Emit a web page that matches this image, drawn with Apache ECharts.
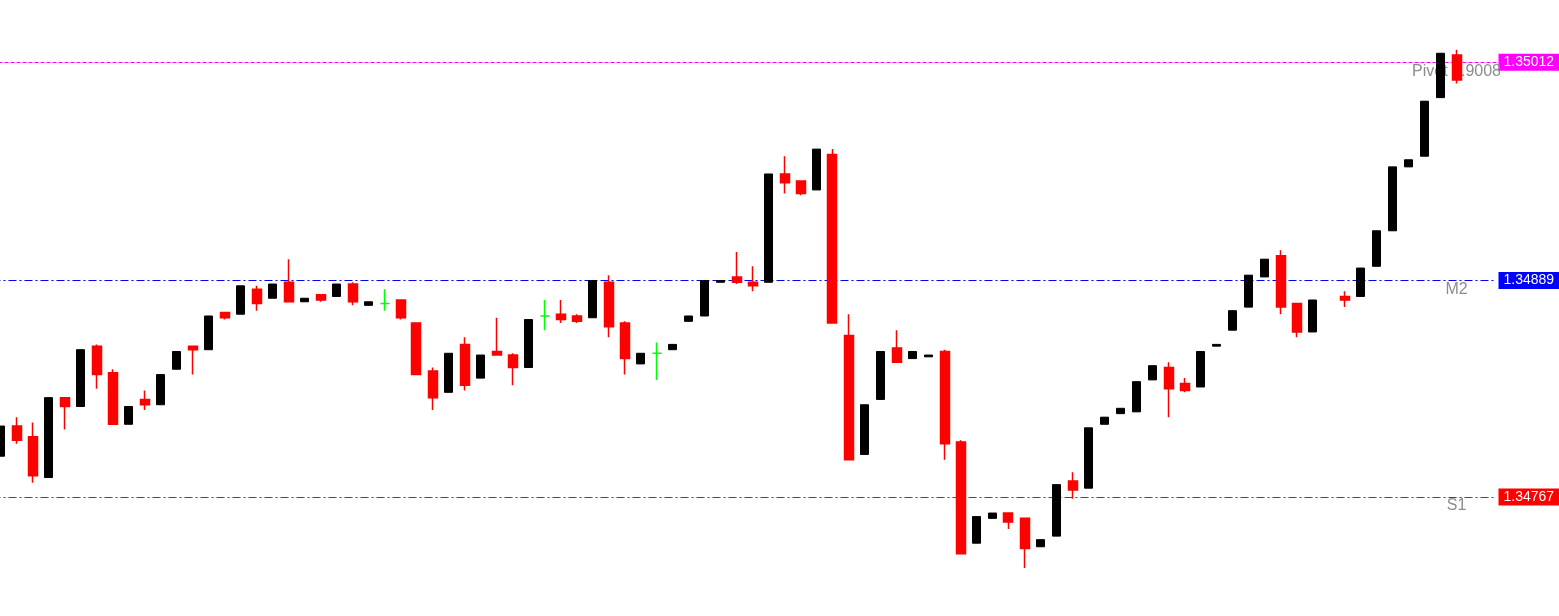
<!DOCTYPE html>
<html>
<head>
<meta charset="utf-8">
<script src="https://cdn.jsdelivr.net/npm/echarts@6/dist/echarts.min.js"></script>
<style>
  html, body { margin: 0; padding: 0; background: #fff; }
  #chart { width: 1559px; height: 616px; }
</style>
</head>
<body>
<div id="chart"></div>
<script>
// candles, left to right (null = no bar drawn)
const opens = [
  1.34790, 1.34807, 1.34801, 1.34778, 1.34823, 1.34818, 1.34852, 1.34837, 1.34808, 1.34822,
  1.34819, 1.34839, 1.34852, 1.34850, 1.34871, 1.34870, 1.34884, 1.34879, 1.34888, 1.34877,
  1.34881, 1.34880, 1.34887, 1.34875, 1.34876, 1.34878, 1.34865, 1.34838, 1.34826, 1.34853,
  1.34834, 1.34849, 1.34847, 1.34840, 1.34869, 1.34870, 1.34869, 1.34868, 1.34888, 1.34865,
  1.34842, 1.34848, 1.34850, 1.34866, 1.34869, 1.34888, 1.34891, 1.34888, 1.34888, 1.34949,
  1.34945, 1.34940, 1.34960, 1.34858, 1.34791, 1.34822, 1.34851, 1.34845, 1.34846, 1.34849,
  1.34798, 1.34741, 1.34755, 1.34758, 1.34755, 1.34739, 1.34745, 1.34776, 1.34772, 1.34808,
  1.34814, 1.34815, 1.34833, 1.34840, 1.34831, 1.34829, 1.34852, 1.34861, 1.34874, 1.34891,
  1.34903, 1.34876, 1.34860, null, 1.34880, 1.34880, 1.34897, 1.34917, 1.34953, 1.34959,
  1.34992, 1.35016
]
const closes = [
  1.34807, 1.34799, 1.34779, 1.34823, 1.34818, 1.34850, 1.34836, 1.34808, 1.34818, 1.34819,
  1.34836, 1.34849, 1.34850, 1.34869, 1.34868, 1.34886, 1.34876, 1.34887, 1.34877, 1.34879,
  1.34878, 1.34887, 1.34877, 1.34877, 1.34876, 1.34868, 1.34836, 1.34823, 1.34848, 1.34830,
  1.34847, 1.34847, 1.34840, 1.34867, 1.34869, 1.34867, 1.34866, 1.34889, 1.34863, 1.34845,
  1.34848, 1.34848, 1.34853, 1.34869, 1.34889, 1.34889, 1.34888, 1.34886, 1.34949, 1.34944,
  1.34938, 1.34963, 1.34865, 1.34788, 1.34819, 1.34849, 1.34843, 1.34849, 1.34847, 1.34797,
  1.34735, 1.34756, 1.34758, 1.34753, 1.34738, 1.34743, 1.34774, 1.34771, 1.34806, 1.34812,
  1.34817, 1.34832, 1.34841, 1.34828, 1.34827, 1.34849, 1.34853, 1.34872, 1.34892, 1.34901,
  1.34874, 1.34860, 1.34878, null, 1.34878, 1.34896, 1.34917, 1.34953, 1.34957, 1.34990,
  1.35017, 1.35002
]
const lows = [
  1.34790, 1.34797, 1.34775, 1.34778, 1.34805, 1.34818, 1.34828, 1.34808, 1.34808, 1.34816,
  1.34819, 1.34839, 1.34836, 1.34850, 1.34867, 1.34870, 1.34872, 1.34879, 1.34877, 1.34877,
  1.34877, 1.34880, 1.34875, 1.34875, 1.34872, 1.34867, 1.34836, 1.34816, 1.34826, 1.34827,
  1.34834, 1.34847, 1.34830, 1.34840, 1.34861, 1.34865, 1.34865, 1.34868, 1.34857, 1.34836,
  1.34842, 1.34833, 1.34850, 1.34866, 1.34869, 1.34888, 1.34887, 1.34883, 1.34888, 1.34938,
  1.34937, 1.34940, 1.34865, 1.34788, 1.34791, 1.34822, 1.34843, 1.34845, 1.34846, 1.34788,
  1.34735, 1.34741, 1.34755, 1.34749, 1.34727, 1.34739, 1.34745, 1.34766, 1.34772, 1.34808,
  1.34814, 1.34815, 1.34833, 1.34812, 1.34826, 1.34829, 1.34852, 1.34861, 1.34874, 1.34891,
  1.34870, 1.34857, 1.34860, null, 1.34874, 1.34880, 1.34897, 1.34917, 1.34953, 1.34959,
  1.34992, 1.35000
]
const highs = [
  1.34807, 1.34812, 1.34809, 1.34823, 1.34823, 1.34850, 1.34853, 1.34839, 1.34818, 1.34827,
  1.34836, 1.34849, 1.34852, 1.34869, 1.34871, 1.34886, 1.34886, 1.34887, 1.34901, 1.34879,
  1.34881, 1.34887, 1.34888, 1.34877, 1.34884, 1.34878, 1.34865, 1.34840, 1.34848, 1.34857,
  1.34847, 1.34868, 1.34848, 1.34867, 1.34878, 1.34878, 1.34870, 1.34889, 1.34892, 1.34866,
  1.34848, 1.34854, 1.34853, 1.34869, 1.34889, 1.34889, 1.34905, 1.34897, 1.34949, 1.34959,
  1.34945, 1.34963, 1.34963, 1.34870, 1.34819, 1.34849, 1.34861, 1.34849, 1.34847, 1.34850,
  1.34799, 1.34756, 1.34758, 1.34758, 1.34755, 1.34743, 1.34774, 1.34781, 1.34806, 1.34812,
  1.34817, 1.34832, 1.34841, 1.34843, 1.34834, 1.34849, 1.34853, 1.34872, 1.34892, 1.34901,
  1.34906, 1.34876, 1.34878, null, 1.34883, 1.34896, 1.34917, 1.34953, 1.34957, 1.34990,
  1.35017, 1.35019
]
// two empty slots after the last bar
const emptySlots = 2

const levelNames = ['Pivot 0.9008', 'M2', 'S1']
const levelValues = [1.35012, 1.34889, 1.34767]
const levelColors = ['#ff00ff', '#0000ff', '#ff0000']
const levelDash = [[4, 2], [8, 3, 2, 3], [8, 3, 2, 3]]

const cats = []
for (let i = 0; i < opens.length + emptySlots; i++) cats.push(String(i))

let up = []
let down = []
let flat = []
for (let i = 0; i < opens.length; i++) {
  if (opens[i] == null) {
    up.push('-'); down.push('-'); flat.push('-')
    continue
  }
  let c = [opens[i], closes[i], lows[i], highs[i]]
  if (closes[i] > opens[i]) { up.push(c); down.push('-'); flat.push('-') }
  else if (closes[i] < opens[i]) { up.push('-'); down.push(c); flat.push('-') }
  else { up.push('-'); down.push('-'); flat.push(c) }
}

const lastIdx = opens.length - 1
const font = 'Liberation Sans, Arial, sans-serif'

var myChart = echarts.init(document.getElementById('chart'))

myChart.setOption({
  animation: false,
  backgroundColor: '#fff',
  grid: { left: -7.5, right: 62.5, top: 0, bottom: 0, outerBoundsMode: 'none', containLabel: false },
  xAxis: {
    type: 'category',
    data: cats,
    boundaryGap: true,
    show: false
  },
  yAxis: {
    type: 'value',
    min: 1.347,
    max: 1.35047,
    scale: true,
    show: false
  },
  series: [
    {
      name: 'down',
      type: 'candlestick',
      data: down,
      z: 3,
      barWidth: 9.5,
      itemStyle: {
        color: '#ff0000', color0: '#ff0000',
        borderColor: '#ff0000', borderColor0: '#ff0000',
        borderWidth: 1.5
      },
      markLine: {
        silent: true,
        z: 1,
        precision: 5,
        symbol: ['none', 'none'],
        data: levelValues.map((v, i) => ({
          yAxis: v,
          lineStyle: { color: levelColors[i], type: levelDash[i], width: 1 },
          label: {
            show: true,
            position: 'end',
            distance: 2,
            formatter: v.toFixed(5),
            backgroundColor: levelColors[i],
            color: '#fff',
            fontFamily: font,
            fontSize: 14,
            padding: [2, 5, 1, 5]
          }
        }))
      },
      markPoint: {
        silent: true,
        z: 1,
        symbol: 'circle',
        symbolSize: 0,
        data: levelValues.map((v, i) => ({
          coord: [lastIdx, v],
          label: {
            show: true,
            position: 'bottom',
            distance: 1,
            formatter: levelNames[i],
            color: '#8c8c8c',
            fontFamily: font,
            fontSize: 16
          }
        }))
      }
    },
    {
      name: 'up',
      type: 'candlestick',
      data: up,
      z: 3,
      barWidth: 8,
      itemStyle: {
        color: '#000', color0: '#000',
        borderColor: '#000', borderColor0: '#000',
        borderWidth: 1
      }
    },
    {
      name: 'doji',
      type: 'candlestick',
      data: flat,
      z: 3,
      barWidth: 9.5,
      itemStyle: {
        color: '#00ff00', color0: '#00ff00',
        borderColor: '#00ff00', borderColor0: '#00ff00',
        borderWidth: 1.5
      }
    }
  ]
})
</script>
</body>
</html>
